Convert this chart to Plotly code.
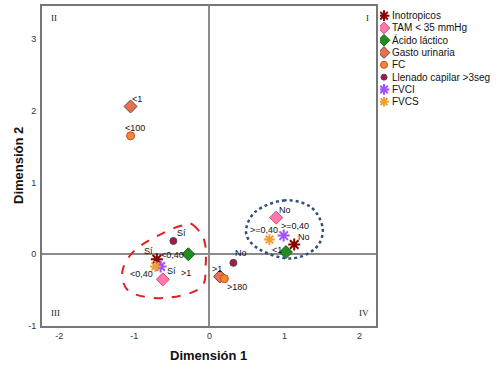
import plotly.graph_objects as go

# ---- data ----
series_names = ["Inotropicos", "TAM < 35 mmHg", "Ácido láctico", "Gasto urinaria",
                "FC", "Llenado capilar >3seg", "FVCI", "FVCS"]
series_x = [[-0.70, 1.13], [-0.62, 0.89], [-0.28, 1.02], [-1.05, 0.14],
            [-1.05, 0.20], [-0.48, 0.32], [-0.65, 0.99], [-0.72, 0.80]]
series_y = [[-0.07, 0.135], [-0.35, 0.51], [0.00, 0.03], [2.06, -0.31],
            [1.65, -0.34], [0.185, -0.12], [-0.17, 0.26], [-0.17, 0.205]]
series_labels = [["Sí", "No"], ["Sí", "No"], [">1", "<1"], ["<1", ">1"],
                 ["<100", ">180"], ["Sí", "No"], ["<0,40", ">=0,40"], ["<0,40", ">=0,40"]]

x_ticks = [-2, -1, 0, 1, 2]
y_ticks = [-1, 0, 1, 2, 3]

W, H = 500, 375


def px(xp):
    return xp / W


def py(yp):
    return 1 - yp / H


# ---- styles ----
styles = [
    dict(symbol="asterisk-open", size=10, color="#8B0000", line=dict(color="#8B0000", width=2)),
    dict(symbol="diamond", size=10, color="#FF7AA8", line=dict(color="#D9487A", width=1)),
    dict(symbol="diamond", size=10, color="#228B22", line=dict(color="#1A5E1A", width=1)),
    dict(symbol="diamond", size=10, color="#E8704A", line=dict(color="#5A4A5A", width=1)),
    dict(symbol="circle", size=8, color="#F08A30", line=dict(color="#E04020", width=1)),
    dict(symbol="circle", size=7, color="#B0143C", line=dict(color="#4A4A60", width=1)),
    dict(symbol="asterisk-open", size=10, color="#A050FF", line=dict(color="#A050FF", width=2)),
    dict(symbol="asterisk-open", size=9, color="#F0A030", line=dict(color="#F0A030", width=2)),
]
# label pixel offsets (dx, dy) for each point
label_shift = [[(-8, 8), (10, 8)], [(9, 8), (9, 8)], [(-2, -19), (-9, 2)], [(6, 7), (-3, 7)],
               [(4, 8), (13, -8)], [(8, 8), (8, 10)], [(12, 11), (11, 10)], [(-14, -8), (-5, 10)]]

fig = go.Figure()
annotations = []
label_font = dict(size=9, color="#111", family="Liberation Sans, Arial")
for i, name in enumerate(series_names):
    st = styles[i]
    fig.add_trace(go.Scatter(
        x=series_x[i], y=series_y[i], mode="markers", name=name, showlegend=False,
        marker=dict(symbol=st["symbol"], size=st["size"], color=st["color"], line=st["line"]),
        xaxis="x", yaxis="y"))
    for j in range(2):
        dx, dy = label_shift[i][j]
        annotations.append(dict(x=series_x[i][j], y=series_y[i][j], xref="x", yref="y",
                                text=series_labels[i][j], showarrow=False, xshift=dx, yshift=dy,
                                xanchor="center", yanchor="middle", font=label_font))

# manual legend on auxiliary axes
for i, name in enumerate(series_names):
    st = styles[i]
    fig.add_trace(go.Scatter(
        x=[4], y=[i], mode="markers", showlegend=False, hoverinfo="skip",
        marker=dict(symbol=st["symbol"], size=st["size"] - 1, color=st["color"], line=st["line"]),
        xaxis="x2", yaxis="y2"))
    annotations.append(dict(x=10, y=i, xref="x2", yref="y2", text=name, showarrow=False,
                            xanchor="left", yanchor="middle",
                            font=dict(size=10, color="#111", family="Liberation Sans, Arial")))

# quadrant labels
quad_font = dict(size=9, color="#222", family="Liberation Serif, DejaVu Serif")
for txt, xx, yy, xa, ya in [("II", 0.02, 0.985, "left", "top"), ("I", 0.985, 0.985, "right", "top"),
                            ("III", 0.02, 0.02, "left", "bottom"), ("IV", 0.985, 0.02, "right", "bottom")]:
    annotations.append(dict(x=xx, y=yy, xref="x domain", yref="y domain", text=txt,
                            showarrow=False, xanchor=xa, yanchor=ya, font=quad_font))

# axis titles
title_font = dict(size=13, color="#111", family="Liberation Sans, Arial")
annotations.append(dict(x=px(208), y=py(355), xref="paper", yref="paper",
                        xanchor="center", yanchor="middle",
                        text="<b>Dimensión 1</b>", showarrow=False, font=title_font))
annotations.append(dict(x=px(18), y=py(166), xref="paper", yref="paper",
                        xanchor="center", yanchor="middle",
                        text="<b>Dimensión 2</b>", showarrow=False, textangle=-90, font=title_font))


def closed_spline(pts):
    n = len(pts)
    d = "M %.4f,%.4f" % pts[0]
    for k in range(n):
        p0, p1, p2, p3 = pts[k - 1], pts[k], pts[(k + 1) % n], pts[(k + 2) % n]
        c1 = (p1[0] + (p2[0] - p0[0]) / 6, p1[1] + (p2[1] - p0[1]) / 6)
        c2 = (p2[0] - (p3[0] - p1[0]) / 6, p2[1] - (p3[1] - p1[1]) / 6)
        d += " C %.4f,%.4f %.4f,%.4f %.4f,%.4f" % (c1 + c2 + p2)
    return d + " Z"


red_outline = [(-0.22, 0.41), (-0.07, 0.20), (-0.05, -0.15), (-0.12, -0.47), (-0.59, -0.61),
               (-1.05, -0.53), (-1.16, -0.25), (-0.99, 0.06), (-0.59, 0.31), (-0.33, 0.41)]
blue_outline = [(0.99, 0.75), (1.35, 0.66), (1.51, 0.36), (1.41, 0.08), (1.08, -0.06),
                (0.68, 0.06), (0.49, 0.29), (0.61, 0.59)]

shapes = [
    dict(type="path", xref="x", yref="y", path=closed_spline(red_outline),
         line=dict(color="#E02020", width=2, dash="dash")),
    dict(type="path", xref="x", yref="y", path=closed_spline(blue_outline),
         line=dict(color="#34507A", width=2.5, dash="dot")),
]

axis_font = dict(size=9, color="#333", family="Liberation Sans, Arial")
fig.update_layout(
    width=W, height=H,
    margin=dict(l=0, r=0, t=0, b=0),
    paper_bgcolor="white", plot_bgcolor="white",
    showlegend=False,
    annotations=annotations,
    shapes=shapes,
    xaxis=dict(domain=[px(42), px(376)], range=[-2.23, 2.22], tickvals=x_ticks,
               ticktext=[str(v) for v in x_ticks], showgrid=False, automargin=False,
               zeroline=True, zerolinecolor="#8a8a8a", zerolinewidth=1.5,
               showline=True, mirror=True, linecolor="#777", linewidth=2,
               ticks="", tickfont=axis_font, ticklabelstandoff=0),
    yaxis=dict(domain=[py(326), py(6)], range=[-1.0, 3.46], tickvals=y_ticks,
               ticktext=[str(v) for v in y_ticks], showgrid=False, automargin=False,
               zeroline=True, zerolinecolor="#8a8a8a", zerolinewidth=1.5,
               showline=True, mirror=True, linecolor="#777", linewidth=2,
               ticks="", tickfont=axis_font, ticklabelstandoff=2),
    xaxis2=dict(domain=[px(380), px(500)], range=[0, 120], visible=False, fixedrange=True,
                anchor="y2", automargin=False),
    yaxis2=dict(domain=[py(107.85), py(9.55)], range=[7.5, -0.5], visible=False,
                fixedrange=True, anchor="x2", automargin=False),
)

fig.write_html("out.html", config={"displayModeBar": False},
               post_script="document.body.style.margin='0px';document.body.style.overflow='hidden';")
